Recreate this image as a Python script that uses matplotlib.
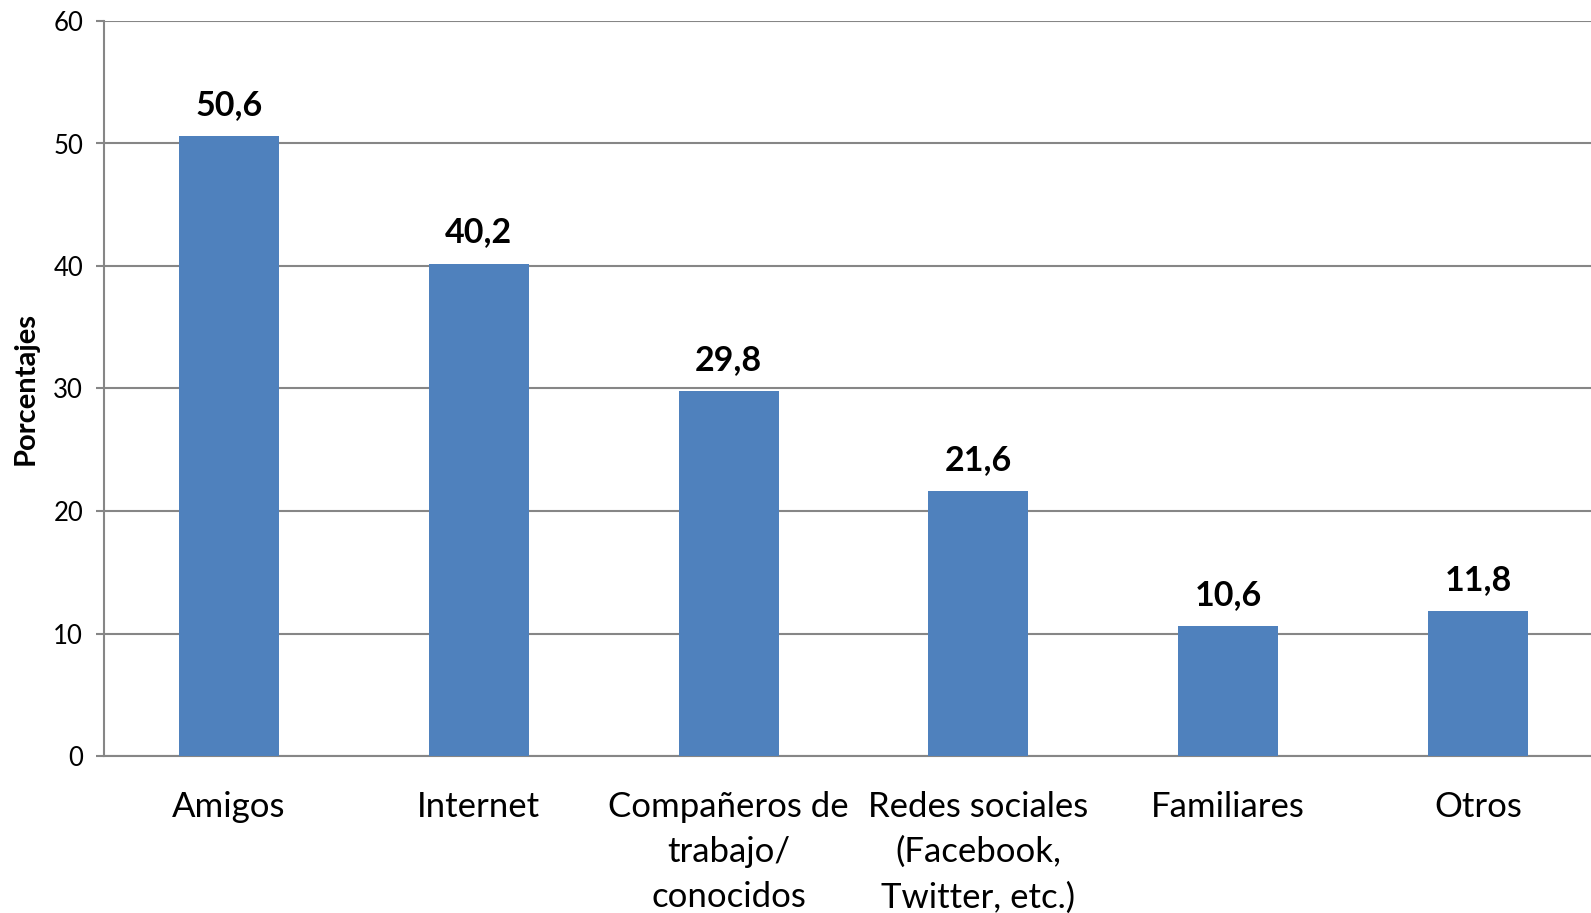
import matplotlib
matplotlib.use('Agg')
import matplotlib.pyplot as plt

categorias = ['Amigos', 'Internet', 'Compañeros de\ntrabajo/\nconocidos',
              'Redes sociales\n(Facebook,\nTwitter, etc.)', 'Familiares', 'Otros']
porcentajes = [50.6, 40.2, 29.8, 21.6, 10.6, 11.8]
etiquetas = ['50,6', '40,2', '29,8', '21,6', '10,6', '11,8']
yticks = [0, 10, 20, 30, 40, 50, 60]

plt.rcParams['font.family'] = ['Lato', 'DejaVu Sans']

W, H = 1591, 913
fig = plt.figure(figsize=(W / 100, H / 100), dpi=100)
# axes extends a bit past the right edge (the original is cropped)
ax = fig.add_axes([104 / W, (H - 756) / H, (1603 - 104) / W, (756 - 21) / H])

x = range(len(categorias))
ax.bar(x, porcentajes, width=0.4, color='#4F81BD', zorder=3)

for i, v in enumerate(porcentajes):
    ax.annotate(etiquetas[i], (i, v), xytext=(0, 11), textcoords='offset points',
                ha='center', va='bottom', fontsize=24.5, fontweight='bold')

ax.set_xlim(-0.5, len(categorias) - 0.5)
ax.set_ylim(0, 60)
ax.set_yticks(yticks)
ax.set_yticklabels([str(t) for t in yticks], fontsize=18.5)
ax.set_xticks(list(x))
ax.set_xticklabels(categorias, fontsize=25, linespacing=1.5)
ax.tick_params(axis='x', length=0, pad=25)
ax.tick_params(axis='y', length=6, width=1.5, color='#868686', pad=9)

ax.grid(axis='y', color='#868686', linewidth=1.5, zorder=0)
for s in ['top', 'right']:
    ax.spines[s].set_visible(False)
for s in ['left', 'bottom']:
    ax.spines[s].set_color('#868686')
    ax.spines[s].set_linewidth(1.5)

ax.set_ylabel('Porcentajes', fontsize=21, fontweight='bold')
ax.yaxis.set_label_coords(-65 / (1603 - 104), 0.5)

fig.savefig('out.png', dpi=100)
